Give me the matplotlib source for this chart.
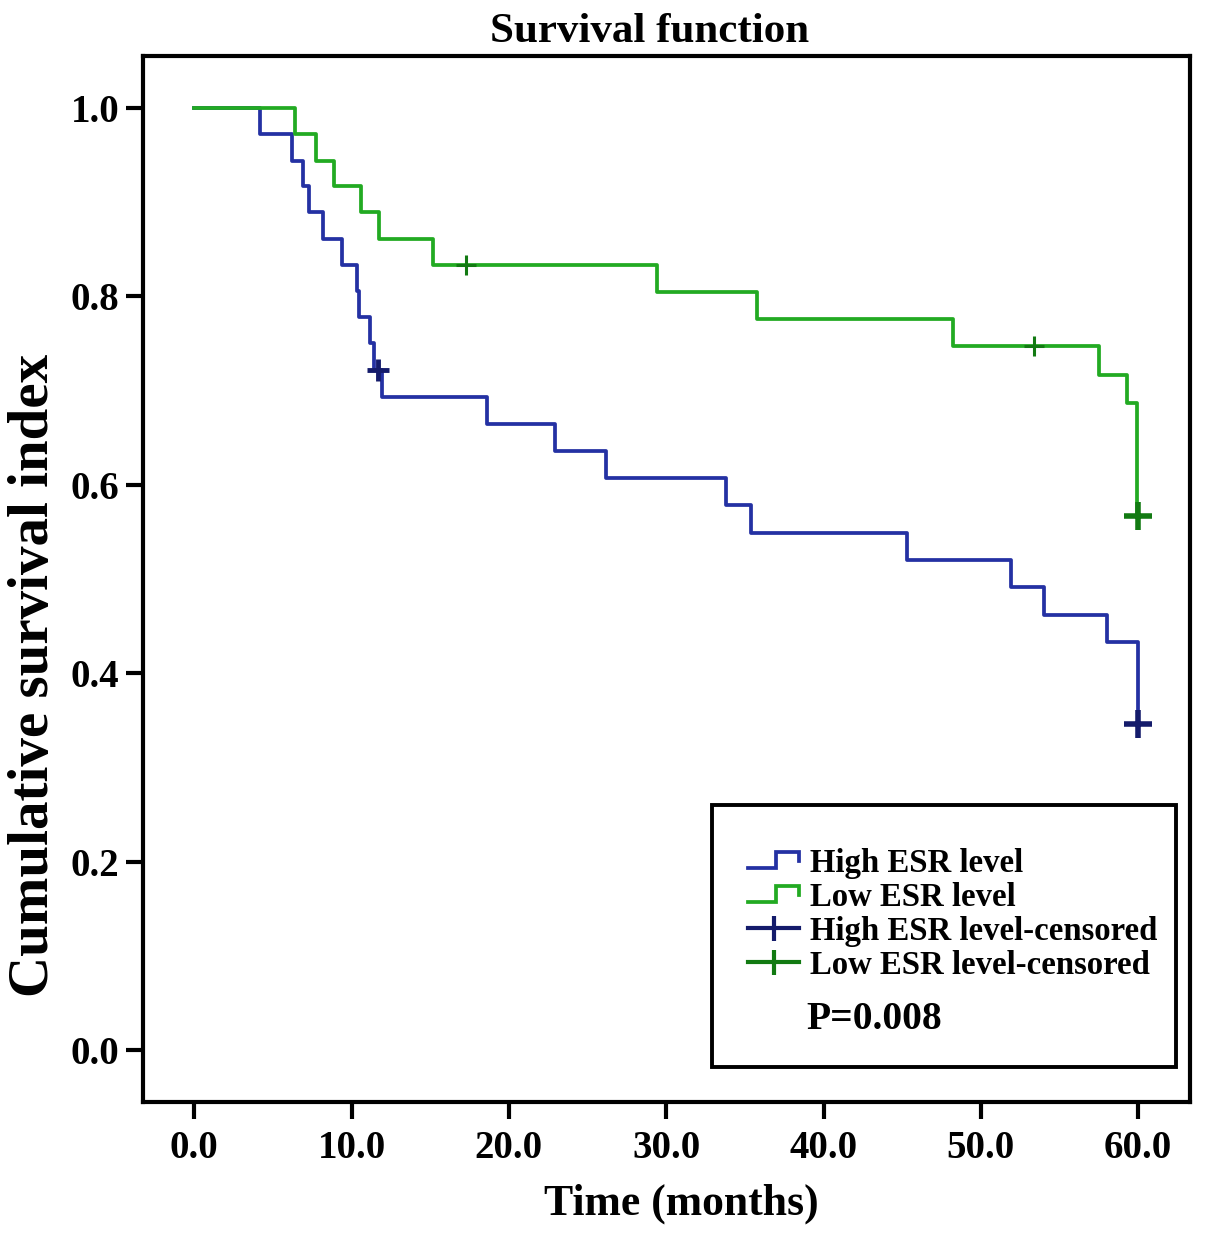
import matplotlib
matplotlib.use("Agg")
import matplotlib.pyplot as plt
from matplotlib.lines import Line2D
from matplotlib.patches import Rectangle
from matplotlib.legend_handler import HandlerBase

# ---- data ----
high_times = [0.0, 4.2, 6.2, 6.9, 7.3, 8.2, 9.4, 10.35, 10.45, 11.2, 11.4, 11.9,
              18.6, 22.9, 26.2, 33.8, 35.4, 45.3, 51.9, 54.0, 58.0, 60.0]
high_surv = [1.0, 0.972, 0.944, 0.917, 0.889, 0.861, 0.833, 0.806, 0.778, 0.750,
             0.722, 0.693, 0.664, 0.636, 0.607, 0.578, 0.549, 0.520, 0.491,
             0.462, 0.433, 0.346]
high_cens_t = [11.65, 60.0]
high_cens_s = [0.722, 0.346]

low_times = [0.0, 6.4, 7.75, 8.85, 10.6, 11.75, 15.2, 29.4, 35.75, 48.2,
             57.5, 59.3, 59.95]
low_surv = [1.0, 0.972, 0.944, 0.917, 0.889, 0.861, 0.833, 0.805, 0.776,
            0.747, 0.717, 0.687, 0.567]
low_cens_t = [17.25, 53.4, 60.0]
low_cens_s = [0.833, 0.747, 0.567]

x_ticks = [0, 10, 20, 30, 40, 50, 60]
x_tick_labels = ["0.0", "10.0", "20.0", "30.0", "40.0", "50.0", "60.0"]
y_ticks = [0.0, 0.2, 0.4, 0.6, 0.8, 1.0]
y_tick_labels = ["0.0", "0.2", "0.4", "0.6", "0.8", "1.0"]

series_labels = ["High ESR level", "Low ESR level",
                 "High ESR level-censored", "Low ESR level-censored"]
p_text = "P=0.008"

BLUE = "#2431a3"
BLUE_C = "#141b6b"
GREEN = "#22aa22"
GREEN_C = "#127a12"

plt.rcParams['font.family'] = ['Liberation Serif', 'DejaVu Serif']
plt.rcParams['font.weight'] = 'bold'

fig = plt.figure(figsize=(12.05, 12.34), dpi=100)
ax = fig.add_axes([0.1187, 0.107, 0.8689, 0.8476])

ax.step(high_times, high_surv, where='post', color=BLUE, lw=2.7, zorder=3)
ax.step(low_times, low_surv, where='post', color=GREEN, lw=2.7, zorder=3)

# censored marks (small in the middle, larger at the end)
ax.plot(high_cens_t[:-1], high_cens_s[:-1], ls='none', marker='+', ms=16, mew=3.5,
        color=BLUE_C, zorder=4)
ax.plot(high_cens_t[-1:], high_cens_s[-1:], ls='none', marker='+', ms=20, mew=4,
        color=BLUE_C, zorder=4)
ax.plot(low_cens_t[:-1], low_cens_s[:-1], ls='none', marker='+', ms=15, mew=2.2,
        color=GREEN_C, zorder=4)
ax.plot(low_cens_t[-1:], low_cens_s[-1:], ls='none', marker='+', ms=20, mew=4,
        color=GREEN_C, zorder=4)

ax.set_xlim(-3.26, 63.3)
ax.set_ylim(-0.055, 1.055)
ax.set_xticks(x_ticks)
ax.set_xticklabels(x_tick_labels)
ax.set_yticks(y_ticks)
ax.set_yticklabels(y_tick_labels)

for sp in ax.spines.values():
    sp.set_linewidth(3)
    sp.set_color('black')
ax.tick_params(axis='both', direction='out', length=12, width=3, labelsize=28,
               color='black')
ax.tick_params(axis='x', pad=8)
ax.tick_params(axis='y', pad=5)
for lab in ax.get_xticklabels() + ax.get_yticklabels():
    lab.set_fontweight('bold')

ax.set_xlabel("Time (months)", fontsize=31.5, fontweight='bold', labelpad=12)
ax.xaxis.set_label_coords(0.514, -0.078)
ax.set_ylabel("Cumulative survival index", fontsize=41, fontweight='bold', labelpad=8)
ax.yaxis.set_label_coords(-0.079, 0.408)
ax.set_title("Survival function", fontsize=31, fontweight='bold', pad=10, x=0.484)


class StepHandler(HandlerBase):
    def create_artists(self, legend, orig_handle, xdescent, ydescent, width,
                       height, fontsize, trans):
        xs = [0.0, 0.55, 0.55, 1.0, 1.0]
        ys = [0.15, 0.15, 0.85, 0.85, 0.45]
        line = Line2D([x * width - xdescent for x in xs],
                      [y * height - ydescent for y in ys],
                      color=orig_handle.get_color(), lw=2.7,
                      solid_joinstyle='miter')
        line.set_transform(trans)
        return [line]


h1 = Line2D([], [], color=BLUE)
h2 = Line2D([], [], color=GREEN)
h3 = Line2D([], [], color=BLUE_C, lw=3, marker='|', ms=18, mew=3)
h4 = Line2D([], [], color=GREEN_C, lw=3, marker='|', ms=18, mew=3)

leg = ax.legend([h1, h2, h3, h4], series_labels,
                handler_map={h1: StepHandler(), h2: StepHandler()},
                loc='upper left', bbox_to_anchor=(0.578, 0.243),
                frameon=False, fontsize=23.6, handlelength=1.55,
                handletextpad=0.35, labelspacing=0.09, numpoints=1,
                borderaxespad=0, borderpad=0)
for t in leg.get_texts():
    t.set_fontweight('bold')

ax.add_patch(Rectangle((0.5435, 0.0335), 0.4431, 0.2505, transform=ax.transAxes,
                       fill=False, edgecolor='black', lw=2.8, zorder=5))
ax.text(0.634, 0.079, p_text, transform=ax.transAxes, fontsize=28.5,
        fontweight='bold', ha='left', va='center')

fig.savefig("out.png", dpi=100)
